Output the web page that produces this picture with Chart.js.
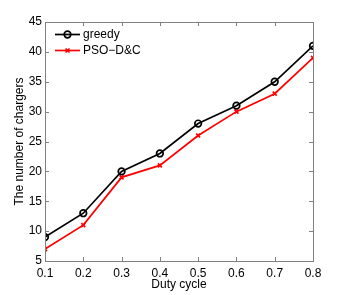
<!DOCTYPE html>
<html>
<head>
<meta charset="utf-8">
<script src="https://cdn.jsdelivr.net/npm/chart.js@4.4.1/dist/chart.umd.min.js"></script>
<style>
  html, body { margin: 0; padding: 0; background: #fff; }
  #wrap { width: 346px; height: 295px; position: relative; }
</style>
</head>
<body>
<div id="wrap"><canvas id="chart"></canvas></div>
<script>
const dutyCycle = [0.1, 0.2, 0.3, 0.4, 0.5, 0.6, 0.7, 0.8];
const greedy = [9, 13, 20, 23, 28, 31, 35, 41];
const psoDC = [7, 11, 19, 21, 26, 30, 33, 39];
const yTicks = [5, 10, 15, 20, 25, 30, 35, 40, 45];

const FONT = 'Liberation Sans, Arial, sans-serif';

// frame + inward ticks, matlab style
const framePlugin = {
    id: 'frame',
    afterDraw(chart) {
        const ctx = chart.ctx;
        const a = chart.chartArea;
        const xs = chart.scales.x;
        const ys = chart.scales.y;
        ctx.save();
        ctx.strokeStyle = '#808080';
        ctx.lineWidth = 1;
        ctx.strokeRect(a.left + 0.5, a.top + 0.5, a.right - a.left, a.bottom - a.top);
        ctx.beginPath();
        dutyCycle.forEach(v => {
            const px = Math.round(xs.getPixelForValue(v)) + 0.5;
            ctx.moveTo(px, a.bottom); ctx.lineTo(px, a.bottom - 4);
            ctx.moveTo(px, a.top); ctx.lineTo(px, a.top + 4);
        });
        yTicks.forEach(v => {
            const py = Math.round(ys.getPixelForValue(v)) + 0.5;
            ctx.moveTo(a.left, py); ctx.lineTo(a.left + 4, py);
            ctx.moveTo(a.right, py); ctx.lineTo(a.right - 4, py);
        });
        ctx.stroke();

        // legend
        const rows = [
            { label: 'greedy', color: '#000', style: 'circle', y: 34.5 },
            { label: 'PSO\u2212D&C', color: '#ff0000', style: 'crossRot', y: 50.5 }
        ];
        rows.forEach(r => {
            ctx.strokeStyle = r.color;
            ctx.fillStyle = 'rgba(0,0,0,0)';
            ctx.lineWidth = 1.7;
            ctx.beginPath();
            ctx.moveTo(55, r.y); ctx.lineTo(80, r.y);
            ctx.stroke();
            Chart.helpers.drawPoint(ctx, {
                pointStyle: r.style, radius: r.style === 'circle' ? 3.3 : 2.8, borderWidth: 1.7
            }, 67.5, r.y);
            ctx.fillStyle = '#000';
            ctx.font = '12px ' + FONT;
            ctx.textBaseline = 'middle';
            ctx.fillText(r.label, 83, r.y);
        });
        ctx.restore();
    }
};

new Chart(document.getElementById('chart'), {
    type: 'line',
    data: {
        datasets: [
            {
                label: 'greedy',
                data: dutyCycle.map((x, i) => ({ x: x, y: greedy[i] })),
                borderColor: '#000',
                backgroundColor: 'rgba(0,0,0,0)',
                borderWidth: 1.7,
                pointStyle: 'circle',
                pointRadius: 3.3,
                pointBorderWidth: 1.7,
                pointBorderColor: '#000',
                pointBackgroundColor: 'rgba(0,0,0,0)',
                tension: 0
            },
            {
                label: 'PSO\u2212D&C',
                data: dutyCycle.map((x, i) => ({ x: x, y: psoDC[i] })),
                borderColor: '#ff0000',
                backgroundColor: 'rgba(0,0,0,0)',
                borderWidth: 1.7,
                pointStyle: 'crossRot',
                pointRadius: 2.8,
                pointBorderWidth: 1.7,
                pointBorderColor: '#ff0000',
                tension: 0
            }
        ]
    },
    options: {
        responsive: true,
        maintainAspectRatio: false,
        animation: false,
        devicePixelRatio: 1,
        layout: { padding: { left: 12, right: 33, top: 22, bottom: 0 } },
        plugins: {
            legend: { display: false },
            tooltip: { enabled: false }
        },
        scales: {
            x: {
                type: 'linear',
                min: 0.1,
                max: 0.8,
                afterBuildTicks: s => { s.ticks = dutyCycle.map(v => ({ value: v })); },
                afterFit: s => { s.height = 34; },
                grid: { display: false, drawTicks: false },
                border: { display: false },
                ticks: {
                    color: '#000',
                    padding: 5,
                    maxRotation: 0,
                    font: { family: FONT, size: 12 },
                    callback: v => v.toFixed(1)
                },
                title: {
                    display: true,
                    text: 'Duty cycle',
                    color: '#000',
                    padding: { top: 0, bottom: 3 },
                    font: { family: FONT, size: 12 }
                }
            },
            y: {
                min: 5,
                max: 45,
                afterBuildTicks: s => { s.ticks = yTicks.map(v => ({ value: v })); },
                afterFit: s => { s.width = 33; },
                grid: { display: false, drawTicks: false },
                border: { display: false },
                ticks: {
                    color: '#000',
                    padding: 3,
                    font: { family: FONT, size: 12 }
                },
                title: {
                    display: true,
                    text: 'The number of chargers',
                    color: '#000',
                    padding: { top: 0, bottom: 0 },
                    font: { family: FONT, size: 12 }
                }
            }
        }
    },
    plugins: [framePlugin]
});
</script>
</body>
</html>
